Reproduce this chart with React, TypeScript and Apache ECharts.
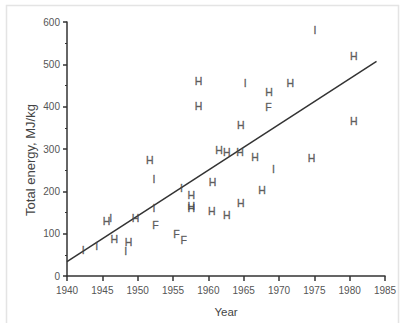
import React, { useEffect, useRef } from "react";
import * as echarts from "echarts";

const markerYears = [1975.1, 1980.6, 1958.6, 1965.2, 1971.6, 1968.6, 1968.5, 1958.6, 1980.6, 1964.6, 1961.5, 1962.6, 1964.5, 1966.6, 1974.6, 1951.7, 1969.2, 1952.3, 1960.6, 1956.2, 1967.6, 1957.6, 1957.6, 1957.6, 1960.5, 1962.6, 1964.6, 1952.3, 1949.7, 1945.6, 1946.2, 1952.5, 1946.7, 1955.5, 1956.5, 1948.7, 1948.3, 1944.2, 1942.3];
const markerValues = [582, 520, 460, 456, 456, 434, 399, 402, 366, 356, 297, 293, 293, 280, 278, 275, 252, 230, 222, 209, 203, 192, 166, 160, 153, 144, 172, 161, 137, 130, 138, 120, 88, 100, 84, 81, 59, 71, 61];
const markerLetters = ["I", "H", "H", "I", "H", "H", "F", "H", "H", "H", "H", "H", "H", "H", "H", "H", "I", "I", "H", "I", "H", "H", "H", "H", "H", "H", "H", "I", "H", "H", "I", "F", "H", "F", "F", "H", "I", "I", "I"];

const fitYears = [1940, 1983.8];
const fitValues = [34, 507];

const xTicks = [1940, 1945, 1950, 1955, 1960, 1965, 1970, 1975, 1980, 1985];
const yTicks = [0, 100, 200, 300, 400, 500, 600];

const FONT = "'Liberation Sans', Arial, sans-serif";

export default function App() {
  const ref = useRef<HTMLDivElement>(null);
  useEffect(() => {
    if (!ref.current) return;
    const chart = echarts.init(ref.current, null, { renderer: "svg" });
    const axisLineStyle = { color: "#333", width: 1.5 };
    chart.setOption({
      animation: false,
      backgroundColor: "#fff",
      graphic: [
        {
          type: "rect",
          shape: { x: 6.5, y: 5.5, width: 392, height: 340 },
          style: { fill: "none", stroke: "#e4e4e4", lineWidth: 1.5 },
          silent: true,
          z: -1,
        },
      ],
      grid: { left: 67, top: 22, width: 318, height: 260, containLabel: false },
      xAxis: {
        type: "value",
        min: xTicks[0],
        max: xTicks[xTicks.length - 1],
        interval: 5,
        name: "Year",
        nameLocation: "middle",
        nameGap: 30,
        nameMoveOverlap: false,
        nameTextStyle: { fontFamily: FONT, fontSize: 11.5, color: "#444" },
        axisLine: { show: true, onZero: false, lineStyle: axisLineStyle },
        axisTick: { show: true, length: 5, lineStyle: axisLineStyle },
        axisLabel: {
          fontFamily: FONT,
          fontSize: 10,
          color: "#555",
          margin: 9,
          showMinLabel: true,
          showMaxLabel: true,
          formatter: (v: number) => String(v),
        },
        splitLine: { show: false },
      },
      yAxis: {
        type: "value",
        min: yTicks[0],
        max: yTicks[yTicks.length - 1],
        interval: 100,
        name: "Total energy, MJ/kg",
        nameLocation: "middle",
        nameGap: 30,
        nameMoveOverlap: false,
        nameRotate: 90,
        nameTextStyle: { fontFamily: FONT, fontSize: 13, color: "#444", padding: [0, 22, 0, 0] },
        axisLine: { show: true, onZero: false, lineStyle: axisLineStyle },
        axisTick: { show: true, length: 4, lineStyle: axisLineStyle },
        minorTick: { show: true, splitNumber: 2, length: 2, lineStyle: { color: "#333", width: 1 } },
        axisLabel: { fontFamily: FONT, fontSize: 10, color: "#555", margin: 7, formatter: (v: number) => String(v) },
        splitLine: { show: false },
      },
      series: [
        {
          type: "line",
          data: fitYears.map((y, i) => [y, fitValues[i]]),
          showSymbol: false,
          symbol: "none",
          lineStyle: { color: "#333", width: 1.5 },
          z: 3,
        },
        {
          type: "scatter",
          data: markerYears.map((y, i) => [y, markerValues[i], markerLetters[i]]),
          symbolSize: 1,
          itemStyle: { color: "rgba(0,0,0,0)" },
          label: {
            show: true,
            position: "inside",
            formatter: (p: any) => p.value[2],
            fontFamily: FONT,
            fontSize: 10.5,
            color: "#444",
            textBorderColor: "#555",
            textBorderWidth: 0.4,
          },
          labelLayout: { hideOverlap: false },
          z: 4,
        },
      ],
    });
    return () => chart.dispose();
  }, []);
  return (
    <div
      ref={ref}
      style={{ position: "fixed", left: 0, top: 0, width: 402, height: 323 }}
    />
  );
}
